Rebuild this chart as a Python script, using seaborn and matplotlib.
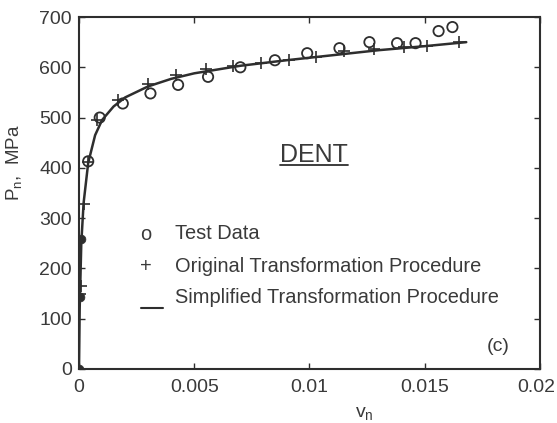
import matplotlib
matplotlib.use("Agg")
import matplotlib.pyplot as plt
import matplotlib.transforms as mtransforms
import seaborn as sns
import pandas as pd
from matplotlib.lines import Line2D

# Test data (normalised displacement v_n, stress P_n in MPa)
test_v = [0.0, 0.00005, 0.0001, 0.0004, 0.0009, 0.0019, 0.0031, 0.0043, 0.0056,
          0.0070, 0.0085, 0.0099, 0.0113, 0.0126, 0.0138, 0.0146, 0.0156, 0.0162]
test_p = [0, 143, 258, 413, 500, 528, 548, 565, 581,
          600, 614, 628, 638, 650, 648, 648, 672, 680]

# Original transformation procedure
orig_v = [0.0, 0.00004, 0.00008, 0.0002, 0.0004, 0.0008, 0.0017, 0.0030, 0.0042,
          0.0055, 0.0067, 0.0079, 0.0091, 0.0103, 0.0115, 0.0128, 0.0141, 0.0151, 0.0165]
orig_p = [0, 150, 165, 328, 412, 496, 535, 566, 584,
          596, 602, 608, 614, 621, 632, 637, 640, 643, 650]

# Simplified transformation procedure
simp_v = [0.0, 0.00003, 0.0001, 0.0002, 0.0004, 0.0007, 0.001, 0.0015, 0.002,
          0.003, 0.004, 0.005, 0.007, 0.009, 0.011, 0.013, 0.015, 0.0168]
simp_p = [0, 120, 250, 330, 410, 465, 495, 522, 540,
          562, 577, 588, 603, 614, 624, 634, 642, 650]

x_ticks = [0, 0.005, 0.01, 0.015, 0.02]
x_tick_labels = ["0", "0.005", "0.01", "0.015", "0.02"]
y_ticks = [0, 100, 200, 300, 400, 500, 600, 700]

sns.set_style("ticks")
plt.rcParams["font.family"] = ["Liberation Sans", "DejaVu Sans"]
ink = "#2e2e2e"
txt = "#3a3a3a"
fs = 14

fig = plt.figure(figsize=(5.57, 4.23), dpi=100)
ax = fig.add_axes([0.1418, 0.1277, 0.8277, 0.8321])

df_s = pd.DataFrame({"v": simp_v, "p": simp_p})
df_o = pd.DataFrame({"v": orig_v, "p": orig_p})
df_t = pd.DataFrame({"v": test_v, "p": test_p})

sns.lineplot(data=df_s, x="v", y="p", ax=ax, color=ink, lw=1.8, sort=False)
sns.scatterplot(data=df_o, x="v", y="p", ax=ax, marker="+", s=70, color=ink,
                linewidth=1.2, zorder=3)
sns.scatterplot(data=df_t.iloc[3:], x="v", y="p", ax=ax, marker="o", s=55,
                facecolor="none", edgecolor=ink, linewidth=1.3, zorder=4)
sns.scatterplot(data=df_t.iloc[:3], x="v", y="p", ax=ax, marker="o", s=40,
                color=ink, edgecolor=ink, zorder=4)

ax.set_xlim(0, 0.02)
ax.set_ylim(0, 700)
ax.set_xticks(x_ticks)
ax.set_xticklabels(x_tick_labels)
ax.set_yticks(y_ticks)
ax.tick_params(direction="in", length=4, width=1, colors=ink, labelcolor=txt,
               labelsize=fs, top=True, right=True)
ax.tick_params(axis="x", pad=7)
ax.tick_params(axis="y", pad=5)
for s in ax.spines.values():
    s.set_color(ink)
    s.set_linewidth(1.5)

# keep the last x tick label inside the canvas
last = ax.get_xticklabels()[-1]
last.set_transform(last.get_transform() +
                   mtransforms.ScaledTranslation(-4 / 100, 0, fig.dpi_scale_trans))

ax.set_xlabel(r"v$_\mathregular{n}$", fontsize=fs, color=txt)
ax.set_ylabel(r"P$_\mathregular{n}$,  MPa", fontsize=13.5, color=txt)
ax.xaxis.set_label_coords(0.62, -0.105)
ax.yaxis.set_label_coords(-0.117, 0.585)

# Legend drawn as labelled symbols
lx, tx = 0.145, 0.208
lfs = 14.4
ax.text(lx, 0.381, "o", transform=ax.transAxes, ha="center", va="center",
        fontsize=lfs, color=txt)
ax.text(tx, 0.384, "Test Data", transform=ax.transAxes, ha="left", va="center",
        fontsize=lfs, color=txt)
ax.text(lx, 0.290, "+", transform=ax.transAxes, ha="center", va="center",
        fontsize=lfs, color=txt)
ax.text(tx, 0.290, "Original Transformation Procedure", transform=ax.transAxes,
        ha="left", va="center", fontsize=lfs, color=txt)
ax.add_line(Line2D([0.134, 0.182], [0.173, 0.173], transform=ax.transAxes,
                   color=ink, lw=1.5))
ax.text(tx, 0.202, "Simplified Transformation Procedure", transform=ax.transAxes,
        ha="left", va="center", fontsize=lfs, color=txt)

ax.text(0.51, 0.608, "DENT", transform=ax.transAxes, ha="center", va="center",
        fontsize=18, color=txt)
ax.add_line(Line2D([0.436, 0.584], [0.58, 0.58], transform=ax.transAxes,
                   color=ink, lw=1.3))
ax.text(0.909, 0.065, "(c)", transform=ax.transAxes, ha="center", va="center",
        fontsize=fs, color=txt)

fig.savefig("out.png", dpi=100)
